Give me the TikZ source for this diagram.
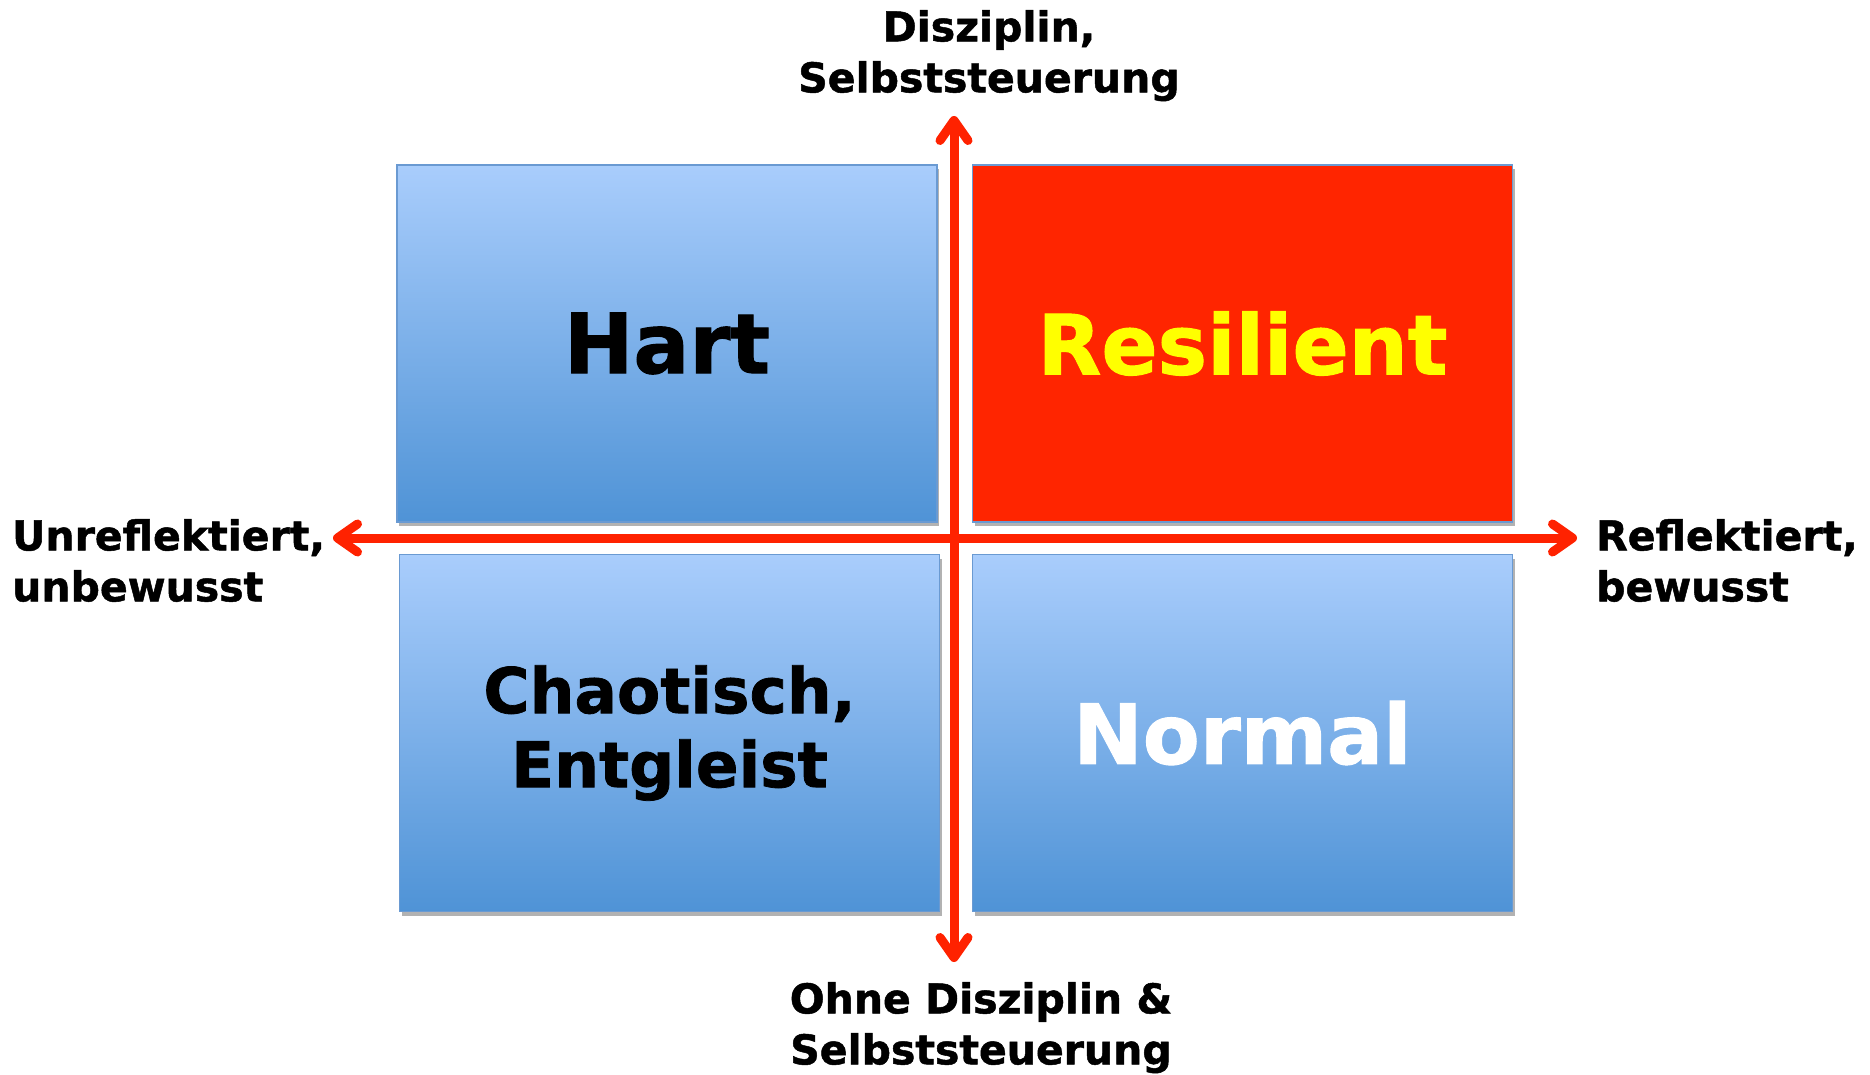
\documentclass[tikz,border=0pt]{standalone}
\usepackage{fontspec}
\setmainfont{DejaVu Sans}[BoldFeatures={FakeBold=1.2}]
\usetikzlibrary{arrows.meta,shadows}
\definecolor{axisred}{HTML}{FF2200}
\definecolor{boxtop}{HTML}{A9CDFC}
\definecolor{boxbot}{HTML}{4F93D6}
\definecolor{boxline}{HTML}{6A9AD2}
\definecolor{resred}{HTML}{FF2500}
\definecolor{resyellow}{HTML}{FFFF00}
\tikzset{
  quad/.style={draw=boxline, line width=1.2pt, minimum width=540pt, minimum height=357pt,
    inner sep=0pt, align=center, font=\bfseries\fontsize{83}{90}\selectfont,
    drop shadow={shadow xshift=2pt, shadow yshift=-4pt, opacity=0.3, fill=black}},
  bluequad/.style={quad, top color=boxtop, bottom color=boxbot},
  redquad/.style={quad, fill=resred, text=resyellow},
  axtip/.tip={Straight Barb[length=20pt, width=28pt, line width=9pt, line join=round, line cap=round]},
  axis/.style={draw=axisred, line width=9pt, line cap=round, axtip-axtip},
  axlabel/.style={font=\bfseries\fontsize{41}{51}\selectfont, inner sep=0pt}
}
\begin{document}
\begin{tikzpicture}[x=1pt,y=-1pt]
\useasboundingbox (0,0) rectangle (1870,1075);
\fill[white] (0,0) rectangle (1870,1075);
\node[bluequad] (hart) at (667,343.5) {Hart};
\node[redquad] (resilient) at (1242.5,343.5) {Resilient};
\node[bluequad, font=\bfseries\fontsize{63}{74}\selectfont] (chaos) at (669.5,733) {Chaotisch,\\Entgleist};
\node[bluequad, text=white] (normal) at (1242.5,733) {Normal};
\coordinate (top) at (954,116);
\coordinate (bottom) at (954,962);
\coordinate (left) at (333,538);
\coordinate (right) at (1577,538);
\draw[axis] (bottom) -- (top);
\draw[axis] (left) -- (right);
\node[axlabel, align=center, anchor=north] (tl) at (989,10) {Disziplin,\\Selbststeuerung};
\node[axlabel, align=center, anchor=north] (bl) at (981,982) {Ohne Disziplin \&\\Selbststeuerung};
\node[axlabel, align=left, anchor=north west] (ll) at (12,519) {Unreflektiert,\\unbewusst};
\node[axlabel, align=left, anchor=north west] (rl) at (1596,519) {Reflektiert,\\bewusst};
\end{tikzpicture}
\end{document}
